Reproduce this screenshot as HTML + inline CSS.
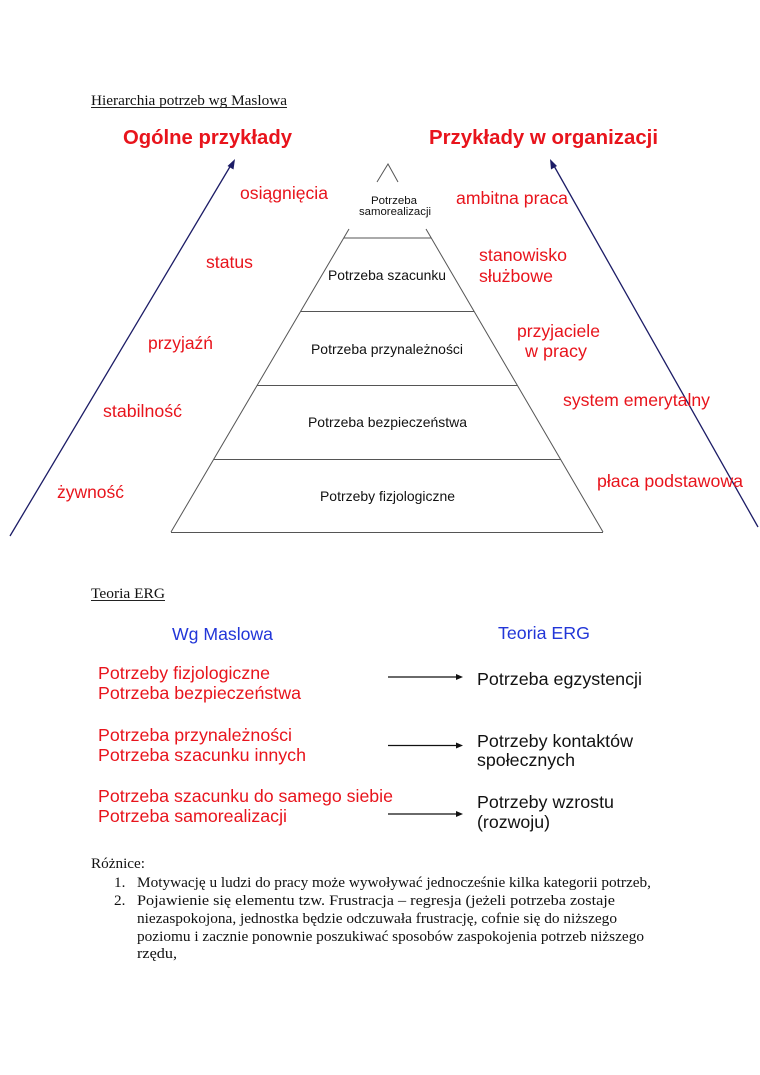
<!DOCTYPE html>
<html><head><meta charset="utf-8"><style>
html,body{margin:0;padding:0;background:#fff;}
svg{display:block;}
.s{font-family:"Liberation Serif",serif;font-size:15.2px;fill:#111;}
.a{font-family:"Liberation Sans",Arial,sans-serif;}
.r{fill:#e8141c;font-size:17.5px;}
.t{fill:#e8141c;font-size:20.4px;font-weight:bold;}
.b{fill:#2236d8;font-size:17.5px;}
.k{fill:#111;font-size:17.5px;}
.p{fill:#111;font-size:14px;}
</style></head><body>
<svg width="760" height="1075" viewBox="0 0 760 1075" xmlns="http://www.w3.org/2000/svg">
<rect width="760" height="1075" fill="#fff"/>
<!-- heading -->
<text class="s" x="91" y="105" textLength="196" lengthAdjust="spacingAndGlyphs">Hierarchia potrzeb wg Maslowa</text>
<line x1="91" y1="107.5" x2="287" y2="107.5" stroke="#222" stroke-width="1"/>
<text class="a t" x="123" y="144" textLength="169" lengthAdjust="spacingAndGlyphs">Ogólne przykłady</text>
<text class="a t" x="429" y="144" textLength="229" lengthAdjust="spacingAndGlyphs">Przykłady w organizacji</text>
<!-- arrows -->
<line x1="10" y1="536" x2="231" y2="165" stroke="#1c1c66" stroke-width="1.3"/>
<polygon points="235,159 227.5,166 233.5,169.5" fill="#1c1c66"/>
<line x1="758" y1="527" x2="553.5" y2="165" stroke="#1c1c66" stroke-width="1.3"/>
<polygon points="550,159 551,169.5 557,166" fill="#1c1c66"/>
<!-- pyramid -->
<g stroke="#555" stroke-width="1" fill="none">
<polyline points="377,182 388,164 398,182"/>
<line x1="171" y1="532" x2="349" y2="229"/>
<line x1="603" y1="532" x2="426" y2="229"/>
<line x1="344" y1="238" x2="431" y2="238"/>
<line x1="301" y1="311.5" x2="474" y2="311.5"/>
<line x1="257" y1="385.5" x2="517" y2="385.5"/>
<line x1="214" y1="459.5" x2="561" y2="459.5"/>
<line x1="171" y1="532.5" x2="603" y2="532.5"/>
</g>
<text class="a" x="371" y="204" font-size="11" fill="#111" textLength="46" lengthAdjust="spacingAndGlyphs">Potrzeba</text>
<text class="a" x="359" y="215" font-size="11" fill="#111" textLength="72" lengthAdjust="spacingAndGlyphs">samorealizacji</text>
<text class="a p" x="328" y="280" textLength="118" lengthAdjust="spacingAndGlyphs">Potrzeba szacunku</text>
<text class="a p" x="311" y="354" textLength="152" lengthAdjust="spacingAndGlyphs">Potrzeba przynależności</text>
<text class="a p" x="308" y="427" textLength="159" lengthAdjust="spacingAndGlyphs">Potrzeba bezpieczeństwa</text>
<text class="a p" x="320" y="501" textLength="135" lengthAdjust="spacingAndGlyphs">Potrzeby fizjologiczne</text>
<!-- left labels -->
<text class="a r" x="240" y="199" textLength="88" lengthAdjust="spacingAndGlyphs">osiągnięcia</text>
<text class="a r" x="206" y="268" textLength="47" lengthAdjust="spacingAndGlyphs">status</text>
<text class="a r" x="148" y="349" textLength="65" lengthAdjust="spacingAndGlyphs">przyjaźń</text>
<text class="a r" x="103" y="417" textLength="79" lengthAdjust="spacingAndGlyphs">stabilność</text>
<text class="a r" x="57" y="498" textLength="67" lengthAdjust="spacingAndGlyphs">żywność</text>
<!-- right labels -->
<text class="a r" x="456" y="204" textLength="112" lengthAdjust="spacingAndGlyphs">ambitna praca</text>
<text class="a r" x="479" y="261" textLength="88" lengthAdjust="spacingAndGlyphs">stanowisko</text>
<text class="a r" x="479" y="282" textLength="74" lengthAdjust="spacingAndGlyphs">służbowe</text>
<text class="a r" x="517" y="337" textLength="83" lengthAdjust="spacingAndGlyphs">przyjaciele</text>
<text class="a r" x="525" y="357" textLength="62" lengthAdjust="spacingAndGlyphs">w pracy</text>
<text class="a r" x="563" y="406" textLength="147" lengthAdjust="spacingAndGlyphs">system emerytalny</text>
<text class="a r" x="597" y="487" textLength="146" lengthAdjust="spacingAndGlyphs">płaca podstawowa</text>
<!-- ERG -->
<text class="s" x="91" y="598" textLength="74" lengthAdjust="spacingAndGlyphs">Teoria ERG</text>
<line x1="91" y1="600.5" x2="165" y2="600.5" stroke="#222" stroke-width="1"/>
<text class="a b" x="172" y="640" textLength="101" lengthAdjust="spacingAndGlyphs">Wg Maslowa</text>
<text class="a b" x="498" y="639" textLength="92" lengthAdjust="spacingAndGlyphs">Teoria ERG</text>
<text class="a r" x="98" y="679" textLength="172" lengthAdjust="spacingAndGlyphs">Potrzeby fizjologiczne</text>
<text class="a r" x="98" y="699" textLength="203" lengthAdjust="spacingAndGlyphs">Potrzeba bezpieczeństwa</text>
<text class="a r" x="98" y="741" textLength="194" lengthAdjust="spacingAndGlyphs">Potrzeba przynależności</text>
<text class="a r" x="98" y="761" textLength="208" lengthAdjust="spacingAndGlyphs">Potrzeba szacunku innych</text>
<text class="a r" x="98" y="802" textLength="295" lengthAdjust="spacingAndGlyphs">Potrzeba szacunku do samego siebie</text>
<text class="a r" x="98" y="822" textLength="189" lengthAdjust="spacingAndGlyphs">Potrzeba samorealizacji</text>
<g stroke="#111" stroke-width="1.2">
<line x1="388" y1="677" x2="457" y2="677"/>
<line x1="388" y1="745.5" x2="457" y2="745.5"/>
<line x1="388" y1="814" x2="457" y2="814"/>
</g>
<g fill="#111">
<polygon points="463,677 456,674 456,680"/>
<polygon points="463,745.5 456,742.5 456,748.5"/>
<polygon points="463,814 456,811 456,817"/>
</g>
<text class="a k" x="477" y="685" textLength="165" lengthAdjust="spacingAndGlyphs">Potrzeba egzystencji</text>
<text class="a k" x="477" y="747" textLength="156" lengthAdjust="spacingAndGlyphs">Potrzeby kontaktów</text>
<text class="a k" x="477" y="766" textLength="98" lengthAdjust="spacingAndGlyphs">społecznych</text>
<text class="a k" x="477" y="808" textLength="137" lengthAdjust="spacingAndGlyphs">Potrzeby wzrostu</text>
<text class="a k" x="477" y="828" textLength="73" lengthAdjust="spacingAndGlyphs">(rozwoju)</text>
<!-- differences -->
<text class="s" x="91" y="868" textLength="54" lengthAdjust="spacingAndGlyphs">Różnice:</text>
<text class="s" x="114" y="887">1.</text>
<text class="s" x="137" y="887" textLength="514" lengthAdjust="spacingAndGlyphs">Motywację u ludzi do pracy może wywoływać jednocześnie kilka kategorii potrzeb,</text>
<text class="s" x="114" y="905">2.</text>
<text class="s" x="137" y="905" textLength="478" lengthAdjust="spacingAndGlyphs">Pojawienie się elementu tzw. Frustracja – regresja (jeżeli potrzeba zostaje</text>
<text class="s" x="137" y="923" textLength="480" lengthAdjust="spacingAndGlyphs">niezaspokojona, jednostka będzie odczuwała frustrację, cofnie się do niższego</text>
<text class="s" x="137" y="941" textLength="507" lengthAdjust="spacingAndGlyphs">poziomu i zacznie ponownie poszukiwać sposobów zaspokojenia potrzeb niższego</text>
<text class="s" x="137" y="958" textLength="40" lengthAdjust="spacingAndGlyphs">rzędu,</text>
</svg>
</body></html>
